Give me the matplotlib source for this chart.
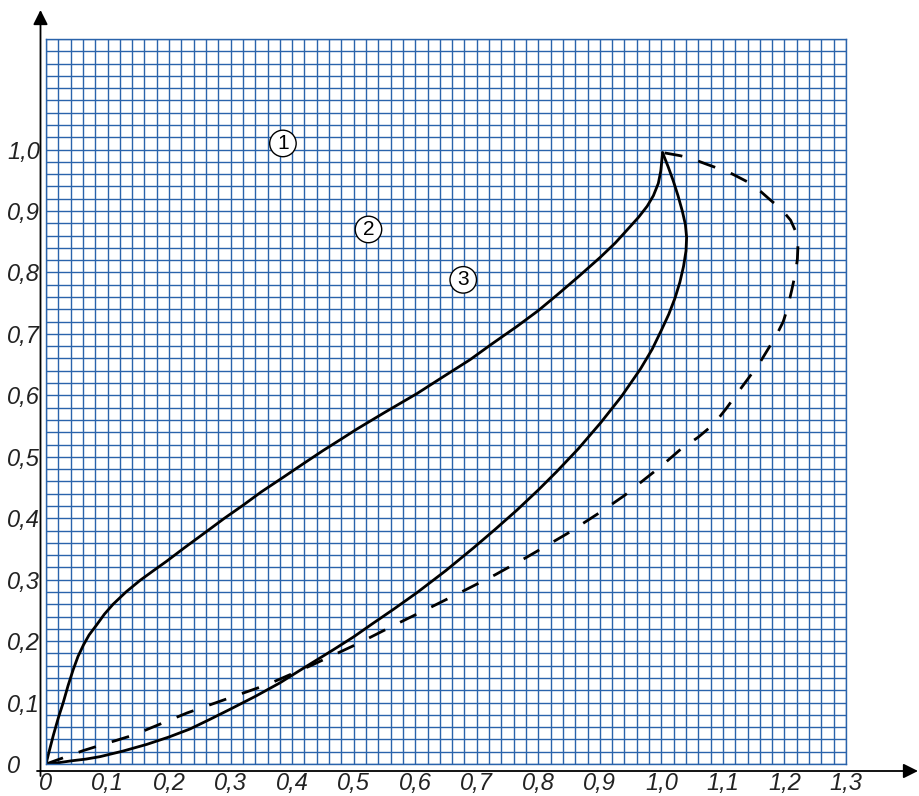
import numpy as np
import matplotlib
matplotlib.use("Agg")
import matplotlib.pyplot as plt

# ---- data ----
x_ticks = [0.0, 0.1, 0.2, 0.3, 0.4, 0.5, 0.6, 0.7, 0.8, 0.9, 1.0, 1.1, 1.2, 1.3]
x_tick_labels = ["0", "0,1", "0,2", "0,3", "0,4", "0,5", "0,6", "0,7", "0,8", "0,9", "1,0", "1,1", "1,2", "1,3"]
y_ticks = [0.0, 0.1, 0.2, 0.3, 0.4, 0.5, 0.6, 0.7, 0.8, 0.9, 1.0]
y_tick_labels = ["0", "0,1", "0,2", "0,3", "0,4", "0,5", "0,6", "0,7", "0,8", "0,9", "1,0"]

upper_x = [0.0, 0.005, 0.012, 0.02, 0.028, 0.036, 0.044, 0.052, 0.061, 0.07, 0.082, 0.095, 0.109, 0.13,
           0.153, 0.175, 0.196, 0.225, 0.259, 0.29, 0.32, 0.35, 0.386, 0.42, 0.45, 0.48, 0.505, 0.55,
           0.603, 0.645, 0.689, 0.725, 0.765, 0.8, 0.83, 0.865, 0.901, 0.925, 0.945, 0.963, 0.977,
           0.987, 0.995, 0.999, 1.002]
upper_y = [0.0, 0.02, 0.047, 0.075, 0.10, 0.128, 0.153, 0.175, 0.194, 0.21, 0.226, 0.244, 0.26, 0.28,
           0.299, 0.315, 0.33, 0.352, 0.377, 0.40, 0.421, 0.443, 0.467, 0.49, 0.51, 0.529, 0.545, 0.572,
           0.603, 0.63, 0.658, 0.684, 0.712, 0.738, 0.763, 0.793, 0.825, 0.848, 0.87, 0.89, 0.908,
           0.925, 0.945, 0.965, 0.995]

lower_x = [0.0, 0.02, 0.04, 0.065, 0.088, 0.125, 0.164, 0.2, 0.234, 0.265, 0.299, 0.34, 0.38, 0.42,
           0.467, 0.5, 0.53, 0.565, 0.603, 0.65, 0.695, 0.73, 0.765, 0.8, 0.83, 0.865, 0.901, 0.935,
           0.966, 0.985, 1.0, 1.012, 1.022, 1.03, 1.036, 1.04, 1.041, 1.039, 1.034, 1.027, 1.019,
           1.011, 1.002]
lower_y = [0.0, 0.002, 0.005, 0.008, 0.012, 0.021, 0.032, 0.044, 0.057, 0.072, 0.089, 0.11, 0.132, 0.157,
           0.186, 0.207, 0.228, 0.252, 0.279, 0.315, 0.352, 0.382, 0.413, 0.446, 0.476, 0.513, 0.555, 0.598,
           0.643, 0.675, 0.706, 0.732, 0.758, 0.784, 0.81, 0.835, 0.857, 0.878, 0.9, 0.925, 0.95,
           0.972, 0.995]

dashed_x = [0.0, 0.061, 0.142, 0.229, 0.305, 0.359, 0.43, 0.505, 0.57, 0.625, 0.679, 0.73, 0.782, 0.847,
            0.901, 0.94, 0.971, 1.0, 1.031, 1.06, 1.085, 1.105, 1.123, 1.143, 1.161, 1.175, 1.188, 1.198,
            1.205, 1.212, 1.218, 1.221, 1.222, 1.219, 1.21, 1.195, 1.177, 1.16, 1.139, 1.11, 1.074, 1.05,
            1.031, 1.003]
dashed_y = [0.0, 0.022, 0.047, 0.083, 0.11, 0.129, 0.16, 0.195, 0.228, 0.255, 0.282, 0.308, 0.337, 0.375,
            0.41, 0.437, 0.462, 0.485, 0.512, 0.532, 0.553, 0.578, 0.603, 0.63, 0.655, 0.678, 0.70, 0.72,
            0.742, 0.772, 0.80, 0.822, 0.845, 0.865, 0.885, 0.903, 0.918, 0.933, 0.948, 0.963, 0.976, 0.985,
            0.99, 0.995]

region_labels = ["1", "2", "3"]
region_x = [0.385, 0.524, 0.678]
region_y = [1.01, 0.870, 0.788]

# ---- figure ----
W, H = 920, 796
fig = plt.figure(figsize=(W / 100, H / 100), dpi=100)
ax = fig.add_axes([46 / W, (H - 764) / H, 800 / W, 725 / H])

grid_color = "#2a63ab"
ax.set_xlim(0, 1.3)
ax.set_ylim(0, 1.18)
ax.set_xticks(x_ticks)
ax.set_xticklabels(x_tick_labels)
ax.set_yticks(y_ticks)
ax.set_yticklabels(y_tick_labels)
ax.set_xticks(np.arange(0, 1.3001, 0.02), minor=True)
ax.set_yticks(np.arange(0, 1.1801, 0.02), minor=True)
ax.grid(which="both", color=grid_color, lw=1.0)
ax.set_axisbelow(True)
ax.tick_params(which="both", length=0)
ax.tick_params(axis="x", pad=6)
ax.tick_params(axis="y", pad=28)
for sp in ax.spines.values():
    sp.set_color(grid_color)
    sp.set_linewidth(1.0)

for lab in ax.get_xticklabels() + ax.get_yticklabels():
    lab.set_fontfamily(["Liberation Sans", "DejaVu Sans"])
    lab.set_fontstyle("italic")
    lab.set_fontsize(17)
    lab.set_color("#222222")
for lab in ax.get_yticklabels():
    lab.set_horizontalalignment("left")

ax.plot(upper_x, upper_y, color="black", lw=2.0, solid_capstyle="round", solid_joinstyle="round")
ax.plot(lower_x, lower_y, color="black", lw=2.0, solid_capstyle="round", solid_joinstyle="round")
ax.plot(dashed_x, dashed_y, color="black", lw=2.0, linestyle=(0, (6.5, 6)), dash_capstyle="butt",
        dash_joinstyle="round")

for t, x, y in zip(region_labels, region_x, region_y):
    ax.text(x, y, t, ha="center", va="center", fontsize=15,
            family=["Liberation Sans", "DejaVu Sans"],
            bbox=dict(boxstyle="circle,pad=0.18", fc="white", ec="black", lw=1.0))

# axis arrows (outside the grid)
ax.annotate("", xy=(918 / W, (H - 771) / H), xytext=(37 / W, (H - 771) / H),
            xycoords="figure fraction", textcoords="figure fraction",
            arrowprops=dict(arrowstyle="-|>", color="black", lw=1.3, mutation_scale=22,
                            shrinkA=0, shrinkB=0))
ax.annotate("", xy=(40.5 / W, (H - 10) / H), xytext=(40.5 / W, (H - 776) / H),
            xycoords="figure fraction", textcoords="figure fraction",
            arrowprops=dict(arrowstyle="-|>", color="black", lw=1.3, mutation_scale=22,
                            shrinkA=0, shrinkB=0))

fig.savefig("out.png", dpi=100)
